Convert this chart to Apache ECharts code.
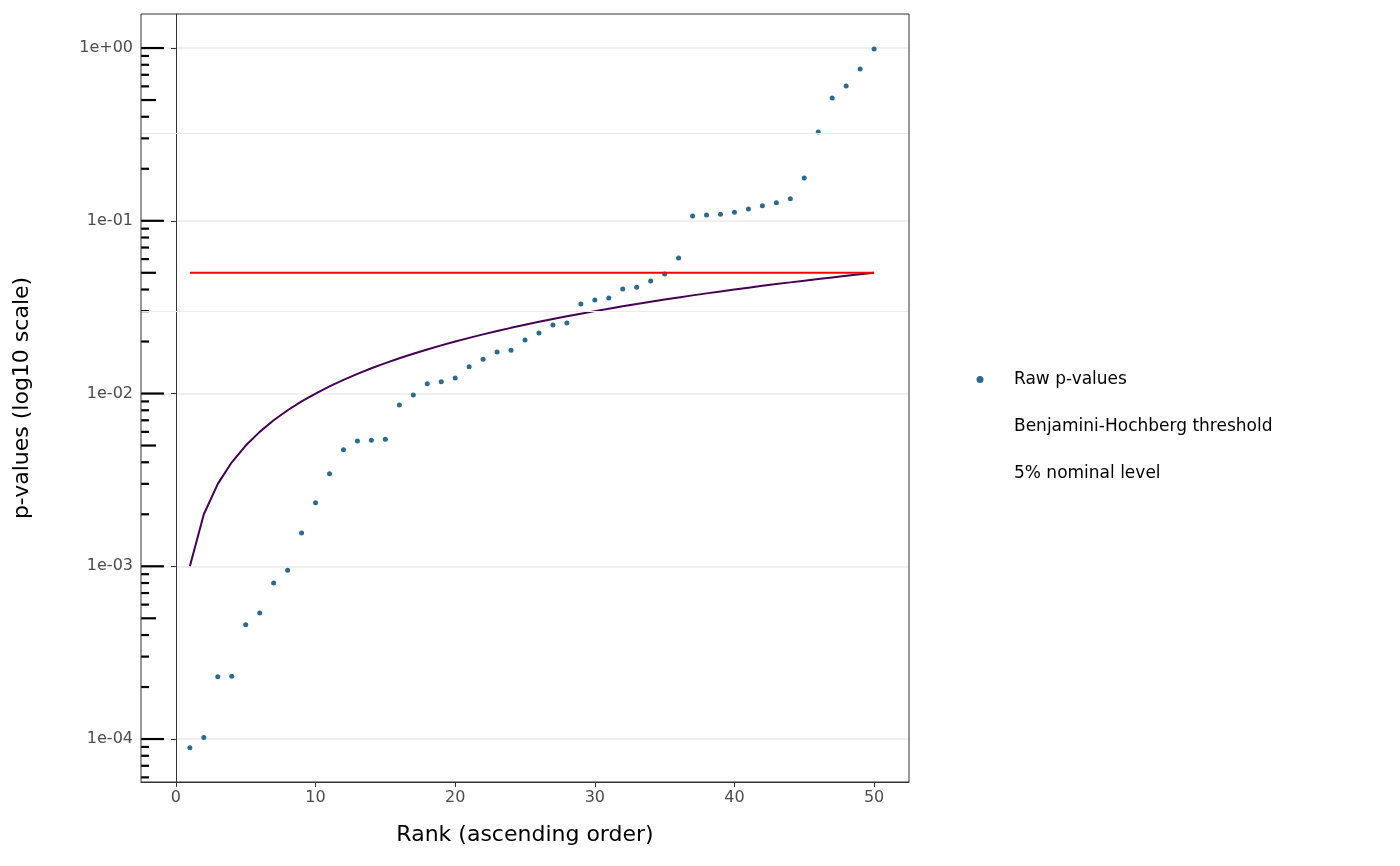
<!DOCTYPE html>
<html><head><meta charset="utf-8">
<script src="https://cdn.jsdelivr.net/npm/echarts@6/dist/echarts.min.js"></script>
<style>html,body{margin:0;padding:0;background:#fff}#c{width:1400px;height:866px}</style>
</head><body><div id="c"></div>
<script>
const ranks = Array.from({length:50},(_,i)=>i+1);
const rawP = [8.9e-5,1.02e-4,2.29e-4,2.31e-4,4.58e-4,5.37e-4,8.0e-4,9.5e-4,1.56e-3,2.33e-3,
3.43e-3,4.72e-3,5.32e-3,5.36e-3,5.43e-3,8.59e-3,9.8e-3,1.14e-2,1.17e-2,1.23e-2,
1.43e-2,1.58e-2,1.74e-2,1.78e-2,2.04e-2,2.24e-2,2.49e-2,2.56e-2,3.30e-2,3.48e-2,
3.57e-2,4.03e-2,4.13e-2,4.48e-2,4.92e-2,6.09e-2,0.1067,0.108,0.109,0.112,
0.117,0.122,0.127,0.134,0.177,0.327,0.514,0.603,0.756,0.987];
const bhThreshold = [0.001,0.002,0.003,0.004,0.005,0.006,0.007,0.008,0.009,0.010,
0.011,0.012,0.013,0.014,0.015,0.016,0.017,0.018,0.019,0.020,
0.021,0.022,0.023,0.024,0.025,0.026,0.027,0.028,0.029,0.030,
0.031,0.032,0.033,0.034,0.035,0.036,0.037,0.038,0.039,0.040,
0.041,0.042,0.043,0.044,0.045,0.046,0.047,0.048,0.049,0.050];
const nominal = 0.05;
const xTicks = [0,10,20,30,40,50];
const yTicks = [1e-4,1e-3,1e-2,1e-1,1];
const yMin = 5.64e-5, yMax = 1.574;
const xMin = -2.5, xMax = 52.5;
const minorGrid = [3.162e-4,3.162e-3,3.162e-2,3.162e-1];

const logTicks = [];
for (let k=-5;k<=0;k++) for (let m=1;m<=9;m++){const v=m*Math.pow(10,k); if(v>=yMin&&v<=yMax) logTicks.push([m,v]);}

const chart = echarts.init(document.getElementById('c'));
const F = 'DejaVu Sans';
chart.setOption({
  animation:false,
  textStyle:{fontFamily:F},
  grid:{left:141,right:491,top:14,bottom:84,show:true,borderColor:'#333',borderWidth:1,z:10},
  xAxis:{type:'value',min:xMin,max:xMax,
    name:'Rank (ascending order)',nameLocation:'middle',nameGap:42,
    nameTextStyle:{fontSize:22,color:'#000'},
    axisLine:{show:true,lineStyle:{color:'#333'}},
    axisTick:{show:true,length:5,lineStyle:{color:'#333'},customValues:xTicks},
    axisLabel:{color:'#4d4d4d',fontSize:16,margin:8,customValues:xTicks},
    splitLine:{show:false}},
  yAxis:{type:'log',logBase:10,min:yMin,max:yMax,
    name:'p-values (log10 scale)',nameLocation:'middle',nameGap:108,
    nameTextStyle:{fontSize:22,color:'#000'},
    axisLine:{show:true,lineStyle:{color:'#333'}},
    axisTick:{show:true,length:5,lineStyle:{color:'#333'},customValues:yTicks},
    axisLabel:{color:'#4d4d4d',fontSize:16,margin:8,customValues:yTicks,
      formatter:v=>{const e=Math.round(Math.log10(v)); return '1e'+(e<0?'-':'+')+String(Math.abs(e)).padStart(2,'0');}},
    splitLine:{show:true,lineStyle:{color:'#ebebeb',width:1.5}}},
  legend:{orient:'vertical',left:958,top:366,itemGap:30,itemWidth:34,itemHeight:7,
    textStyle:{fontSize:17,color:'#000',padding:[0,0,0,12]},
    data:[{name:'Raw p-values',icon:'circle',itemStyle:{color:'#2c6a8f'}},
          {name:'Benjamini-Hochberg threshold',icon:'none'},{name:'5% nominal level',icon:'none'}]},
  series:[
    {type:'line',name:'minor',data:[],silent:true,
      markLine:{symbol:'none',silent:true,label:{show:false},lineStyle:{color:'#ebebeb',width:1,type:'solid'},
        data:minorGrid.map(v=>({yAxis:v}))}},
    {type:'custom',name:'logticks',silent:true,clip:false,
      data:logTicks,
      renderItem:(params,api)=>{
        const m=api.value(0),v=api.value(1);
        const p=api.coord([xMin,v]);
        const len = m===1?23:(m===5?15:8);
        return {type:'line',shape:{x1:p[0],y1:p[1],x2:p[0]+len,y2:p[1]},style:{stroke:'#000',lineWidth:2.2}};
      },encode:{x:0,y:1}},
    {type:'line',name:'Benjamini-Hochberg threshold',data:ranks.map((r,i)=>[r,bhThreshold[i]]),
      showSymbol:false,symbol:'none',lineStyle:{color:'#440154',width:2},itemStyle:{color:'#440154'}},
    {type:'line',name:'5% nominal level',data:[[ranks[0],nominal],[ranks[ranks.length-1],nominal]],
      showSymbol:false,symbol:'none',lineStyle:{color:'#ff0000',width:2},itemStyle:{color:'#ff0000'}},
    {type:'scatter',name:'Raw p-values',data:ranks.map((r,i)=>[r,rawP[i]]),
      symbolSize:5,itemStyle:{color:'#2c6a8f',opacity:1}}
  ]
});
</script></body></html>
